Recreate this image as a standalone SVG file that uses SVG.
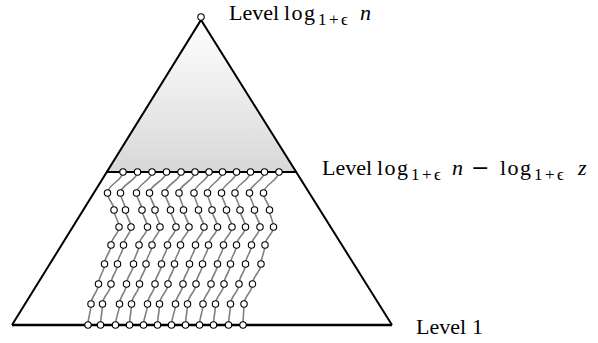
<svg xmlns="http://www.w3.org/2000/svg" width="598" height="343" viewBox="0 0 598 343">
<defs>
<linearGradient id="shade" x1="0" y1="0" x2="0" y2="1">
<stop offset="0" stop-color="#ffffff"/>
<stop offset="1" stop-color="#d8d8d8"/>
</linearGradient>
</defs>
<style>
.tri{fill:none;stroke:#000;stroke-width:2;stroke-linejoin:miter}
.lvl{stroke:#000;stroke-width:2}
.base{stroke:#000;stroke-width:2.5}
.ch{fill:none;stroke:#808080;stroke-width:1.6}
.nd{fill:#fff;stroke:#000;stroke-width:1.1}
.lbl{font-family:"Liberation Serif","Times New Roman",serif;font-size:22px;fill:#000}
.op{letter-spacing:1.5px}
.sub{font-size:17px;letter-spacing:2.5px}
.it{font-style:italic}
.mn{font-family:"DejaVu Sans",sans-serif}
</style>
<rect width="598" height="343" fill="#fff"/>
<g id="triangle">
<polygon points="201,20 106.5,172 297,172" fill="url(#shade)"/>
<line class="lvl" x1="106.5" y1="172" x2="297" y2="172"/>
<line class="base" x1="12" y1="325" x2="392" y2="325"/>
<polyline class="tri" points="12,325 201,20 392,325"/>
</g>
<g id="connectors">
<path class="ch" d="M123,172 C123,180.4 107.5,184.6 107.5,193 C107.5,199.8 114,203.2 114,210 C114,216.8 119,220.2 119,227 C119,234.2 111,237.8 111,245 C111,252.6 104.5,256.4 104.5,264 C104.5,272 98.5,276 98.5,284 C98.5,292 91,296 91,304 C91,312.4 88,316.6 88,325"/>
<path class="ch" d="M137.5,172 C137.5,180.4 120.5,184.6 120.5,193 C120.5,199.8 125.5,203.2 125.5,210 C125.5,216.8 131,220.2 131,227 C131,234.2 123.5,237.8 123.5,245 C123.5,252.6 117.5,256.4 117.5,264 C117.5,272 111,276 111,284 C111,292 102.5,296 102.5,304 C102.5,312.4 100.5,316.6 100.5,325"/>
<path class="ch" d="M152,172 C152,180.4 136.5,184.6 136.5,193 C136.5,199.8 142,203.2 142,210 C142,216.8 147.5,220.2 147.5,227 C147.5,234.2 139,237.8 139,245 C139,252.6 133.5,256.4 133.5,264 C133.5,272 126.5,276 126.5,284 C126.5,292 119.5,296 119.5,304 C119.5,312.4 115.5,316.6 115.5,325"/>
<path class="ch" d="M166.5,172 C166.5,180.4 149.5,184.6 149.5,193 C149.5,199.8 155,203.2 155,210 C155,216.8 160,220.2 160,227 C160,234.2 152,237.8 152,245 C152,252.6 146,256.4 146,264 C146,272 139.5,276 139.5,284 C139.5,292 131.5,296 131.5,304 C131.5,312.4 129.5,316.6 129.5,325"/>
<path class="ch" d="M181,172 C181,180.4 165,184.6 165,193 C165,199.8 170.5,203.2 170.5,210 C170.5,216.8 176,220.2 176,227 C176,234.2 167.5,237.8 167.5,245 C167.5,252.6 161.5,256.4 161.5,264 C161.5,272 155,276 155,284 C155,292 147.5,296 147.5,304 C147.5,312.4 143.5,316.6 143.5,325"/>
<path class="ch" d="M195,172 C195,180.4 179,184.6 179,193 C179,199.8 183.5,203.2 183.5,210 C183.5,216.8 189,220.2 189,227 C189,234.2 180.5,237.8 180.5,245 C180.5,252.6 174.5,256.4 174.5,264 C174.5,272 168,276 168,284 C168,292 159.5,296 159.5,304 C159.5,312.4 157.5,316.6 157.5,325"/>
<path class="ch" d="M209,172 C209,180.4 194,184.6 194,193 C194,199.8 198.5,203.2 198.5,210 C198.5,216.8 204,220.2 204,227 C204,234.2 195.5,237.8 195.5,245 C195.5,252.6 189.5,256.4 189.5,264 C189.5,272 183,276 183,284 C183,292 175.5,296 175.5,304 C175.5,312.4 171.5,316.6 171.5,325"/>
<path class="ch" d="M222.5,172 C222.5,180.4 207.5,184.6 207.5,193 C207.5,199.8 212,203.2 212,210 C212,216.8 217.5,220.2 217.5,227 C217.5,234.2 208.5,237.8 208.5,245 C208.5,252.6 202.5,256.4 202.5,264 C202.5,272 196,276 196,284 C196,292 187.5,296 187.5,304 C187.5,312.4 185.5,316.6 185.5,325"/>
<path class="ch" d="M236.5,172 C236.5,180.4 221.5,184.6 221.5,193 C221.5,199.8 226.5,203.2 226.5,210 C226.5,216.8 232,220.2 232,227 C232,234.2 223.5,237.8 223.5,245 C223.5,252.6 217.5,256.4 217.5,264 C217.5,272 211,276 211,284 C211,292 203,296 203,304 C203,312.4 199.5,316.6 199.5,325"/>
<path class="ch" d="M250.5,172 C250.5,180.4 235,184.6 235,193 C235,199.8 240,203.2 240,210 C240,216.8 245.5,220.2 245.5,227 C245.5,234.2 236.5,237.8 236.5,245 C236.5,252.6 230.5,256.4 230.5,264 C230.5,272 224,276 224,284 C224,292 215.5,296 215.5,304 C215.5,312.4 213.5,316.6 213.5,325"/>
<path class="ch" d="M264.5,172 C264.5,180.4 249.5,184.6 249.5,193 C249.5,199.8 254.5,203.2 254.5,210 C254.5,216.8 260,220.2 260,227 C260,234.2 251.5,237.8 251.5,245 C251.5,252.6 245.5,256.4 245.5,264 C245.5,272 239,276 239,284 C239,292 230.5,296 230.5,304 C230.5,312.4 228.5,316.6 228.5,325"/>
<path class="ch" d="M279,172 C279,180.4 263.5,184.6 263.5,193 C263.5,199.8 269.5,203.2 269.5,210 C269.5,216.8 273.5,220.2 273.5,227 C273.5,234.2 265,237.8 265,245 C265,252.6 261,256.4 261,264 C261,272 252.5,276 252.5,284 C252.5,292 244,296 244,304 C244,312.4 243,316.6 243,325"/>
</g>
<g id="apex"><circle class="nd" cx="201" cy="17" r="3.2"/></g>
<g id="c0">
<g id="n0-0"><circle class="nd" cx="123" cy="172" r="3.2"/></g>
<g id="n0-1"><circle class="nd" cx="107.5" cy="193" r="3.2"/></g>
<g id="n0-2"><circle class="nd" cx="114" cy="210" r="3.2"/></g>
<g id="n0-3"><circle class="nd" cx="119" cy="227" r="3.2"/></g>
<g id="n0-4"><circle class="nd" cx="111" cy="245" r="3.2"/></g>
<g id="n0-5"><circle class="nd" cx="104.5" cy="264" r="3.2"/></g>
<g id="n0-6"><circle class="nd" cx="98.5" cy="284" r="3.2"/></g>
<g id="n0-7"><circle class="nd" cx="91" cy="304" r="3.2"/></g>
<g id="n0-8"><circle class="nd" cx="88" cy="325" r="3.2"/></g>
</g>
<g id="c1">
<g id="n1-0"><circle class="nd" cx="137.5" cy="172" r="3.2"/></g>
<g id="n1-1"><circle class="nd" cx="120.5" cy="193" r="3.2"/></g>
<g id="n1-2"><circle class="nd" cx="125.5" cy="210" r="3.2"/></g>
<g id="n1-3"><circle class="nd" cx="131" cy="227" r="3.2"/></g>
<g id="n1-4"><circle class="nd" cx="123.5" cy="245" r="3.2"/></g>
<g id="n1-5"><circle class="nd" cx="117.5" cy="264" r="3.2"/></g>
<g id="n1-6"><circle class="nd" cx="111" cy="284" r="3.2"/></g>
<g id="n1-7"><circle class="nd" cx="102.5" cy="304" r="3.2"/></g>
<g id="n1-8"><circle class="nd" cx="100.5" cy="325" r="3.2"/></g>
</g>
<g id="c2">
<g id="n2-0"><circle class="nd" cx="152" cy="172" r="3.2"/></g>
<g id="n2-1"><circle class="nd" cx="136.5" cy="193" r="3.2"/></g>
<g id="n2-2"><circle class="nd" cx="142" cy="210" r="3.2"/></g>
<g id="n2-3"><circle class="nd" cx="147.5" cy="227" r="3.2"/></g>
<g id="n2-4"><circle class="nd" cx="139" cy="245" r="3.2"/></g>
<g id="n2-5"><circle class="nd" cx="133.5" cy="264" r="3.2"/></g>
<g id="n2-6"><circle class="nd" cx="126.5" cy="284" r="3.2"/></g>
<g id="n2-7"><circle class="nd" cx="119.5" cy="304" r="3.2"/></g>
<g id="n2-8"><circle class="nd" cx="115.5" cy="325" r="3.2"/></g>
</g>
<g id="c3">
<g id="n3-0"><circle class="nd" cx="166.5" cy="172" r="3.2"/></g>
<g id="n3-1"><circle class="nd" cx="149.5" cy="193" r="3.2"/></g>
<g id="n3-2"><circle class="nd" cx="155" cy="210" r="3.2"/></g>
<g id="n3-3"><circle class="nd" cx="160" cy="227" r="3.2"/></g>
<g id="n3-4"><circle class="nd" cx="152" cy="245" r="3.2"/></g>
<g id="n3-5"><circle class="nd" cx="146" cy="264" r="3.2"/></g>
<g id="n3-6"><circle class="nd" cx="139.5" cy="284" r="3.2"/></g>
<g id="n3-7"><circle class="nd" cx="131.5" cy="304" r="3.2"/></g>
<g id="n3-8"><circle class="nd" cx="129.5" cy="325" r="3.2"/></g>
</g>
<g id="c4">
<g id="n4-0"><circle class="nd" cx="181" cy="172" r="3.2"/></g>
<g id="n4-1"><circle class="nd" cx="165" cy="193" r="3.2"/></g>
<g id="n4-2"><circle class="nd" cx="170.5" cy="210" r="3.2"/></g>
<g id="n4-3"><circle class="nd" cx="176" cy="227" r="3.2"/></g>
<g id="n4-4"><circle class="nd" cx="167.5" cy="245" r="3.2"/></g>
<g id="n4-5"><circle class="nd" cx="161.5" cy="264" r="3.2"/></g>
<g id="n4-6"><circle class="nd" cx="155" cy="284" r="3.2"/></g>
<g id="n4-7"><circle class="nd" cx="147.5" cy="304" r="3.2"/></g>
<g id="n4-8"><circle class="nd" cx="143.5" cy="325" r="3.2"/></g>
</g>
<g id="c5">
<g id="n5-0"><circle class="nd" cx="195" cy="172" r="3.2"/></g>
<g id="n5-1"><circle class="nd" cx="179" cy="193" r="3.2"/></g>
<g id="n5-2"><circle class="nd" cx="183.5" cy="210" r="3.2"/></g>
<g id="n5-3"><circle class="nd" cx="189" cy="227" r="3.2"/></g>
<g id="n5-4"><circle class="nd" cx="180.5" cy="245" r="3.2"/></g>
<g id="n5-5"><circle class="nd" cx="174.5" cy="264" r="3.2"/></g>
<g id="n5-6"><circle class="nd" cx="168" cy="284" r="3.2"/></g>
<g id="n5-7"><circle class="nd" cx="159.5" cy="304" r="3.2"/></g>
<g id="n5-8"><circle class="nd" cx="157.5" cy="325" r="3.2"/></g>
</g>
<g id="c6">
<g id="n6-0"><circle class="nd" cx="209" cy="172" r="3.2"/></g>
<g id="n6-1"><circle class="nd" cx="194" cy="193" r="3.2"/></g>
<g id="n6-2"><circle class="nd" cx="198.5" cy="210" r="3.2"/></g>
<g id="n6-3"><circle class="nd" cx="204" cy="227" r="3.2"/></g>
<g id="n6-4"><circle class="nd" cx="195.5" cy="245" r="3.2"/></g>
<g id="n6-5"><circle class="nd" cx="189.5" cy="264" r="3.2"/></g>
<g id="n6-6"><circle class="nd" cx="183" cy="284" r="3.2"/></g>
<g id="n6-7"><circle class="nd" cx="175.5" cy="304" r="3.2"/></g>
<g id="n6-8"><circle class="nd" cx="171.5" cy="325" r="3.2"/></g>
</g>
<g id="c7">
<g id="n7-0"><circle class="nd" cx="222.5" cy="172" r="3.2"/></g>
<g id="n7-1"><circle class="nd" cx="207.5" cy="193" r="3.2"/></g>
<g id="n7-2"><circle class="nd" cx="212" cy="210" r="3.2"/></g>
<g id="n7-3"><circle class="nd" cx="217.5" cy="227" r="3.2"/></g>
<g id="n7-4"><circle class="nd" cx="208.5" cy="245" r="3.2"/></g>
<g id="n7-5"><circle class="nd" cx="202.5" cy="264" r="3.2"/></g>
<g id="n7-6"><circle class="nd" cx="196" cy="284" r="3.2"/></g>
<g id="n7-7"><circle class="nd" cx="187.5" cy="304" r="3.2"/></g>
<g id="n7-8"><circle class="nd" cx="185.5" cy="325" r="3.2"/></g>
</g>
<g id="c8">
<g id="n8-0"><circle class="nd" cx="236.5" cy="172" r="3.2"/></g>
<g id="n8-1"><circle class="nd" cx="221.5" cy="193" r="3.2"/></g>
<g id="n8-2"><circle class="nd" cx="226.5" cy="210" r="3.2"/></g>
<g id="n8-3"><circle class="nd" cx="232" cy="227" r="3.2"/></g>
<g id="n8-4"><circle class="nd" cx="223.5" cy="245" r="3.2"/></g>
<g id="n8-5"><circle class="nd" cx="217.5" cy="264" r="3.2"/></g>
<g id="n8-6"><circle class="nd" cx="211" cy="284" r="3.2"/></g>
<g id="n8-7"><circle class="nd" cx="203" cy="304" r="3.2"/></g>
<g id="n8-8"><circle class="nd" cx="199.5" cy="325" r="3.2"/></g>
</g>
<g id="c9">
<g id="n9-0"><circle class="nd" cx="250.5" cy="172" r="3.2"/></g>
<g id="n9-1"><circle class="nd" cx="235" cy="193" r="3.2"/></g>
<g id="n9-2"><circle class="nd" cx="240" cy="210" r="3.2"/></g>
<g id="n9-3"><circle class="nd" cx="245.5" cy="227" r="3.2"/></g>
<g id="n9-4"><circle class="nd" cx="236.5" cy="245" r="3.2"/></g>
<g id="n9-5"><circle class="nd" cx="230.5" cy="264" r="3.2"/></g>
<g id="n9-6"><circle class="nd" cx="224" cy="284" r="3.2"/></g>
<g id="n9-7"><circle class="nd" cx="215.5" cy="304" r="3.2"/></g>
<g id="n9-8"><circle class="nd" cx="213.5" cy="325" r="3.2"/></g>
</g>
<g id="c10">
<g id="n10-0"><circle class="nd" cx="264.5" cy="172" r="3.2"/></g>
<g id="n10-1"><circle class="nd" cx="249.5" cy="193" r="3.2"/></g>
<g id="n10-2"><circle class="nd" cx="254.5" cy="210" r="3.2"/></g>
<g id="n10-3"><circle class="nd" cx="260" cy="227" r="3.2"/></g>
<g id="n10-4"><circle class="nd" cx="251.5" cy="245" r="3.2"/></g>
<g id="n10-5"><circle class="nd" cx="245.5" cy="264" r="3.2"/></g>
<g id="n10-6"><circle class="nd" cx="239" cy="284" r="3.2"/></g>
<g id="n10-7"><circle class="nd" cx="230.5" cy="304" r="3.2"/></g>
<g id="n10-8"><circle class="nd" cx="228.5" cy="325" r="3.2"/></g>
</g>
<g id="c11">
<g id="n11-0"><circle class="nd" cx="279" cy="172" r="3.2"/></g>
<g id="n11-1"><circle class="nd" cx="263.5" cy="193" r="3.2"/></g>
<g id="n11-2"><circle class="nd" cx="269.5" cy="210" r="3.2"/></g>
<g id="n11-3"><circle class="nd" cx="273.5" cy="227" r="3.2"/></g>
<g id="n11-4"><circle class="nd" cx="265" cy="245" r="3.2"/></g>
<g id="n11-5"><circle class="nd" cx="261" cy="264" r="3.2"/></g>
<g id="n11-6"><circle class="nd" cx="252.5" cy="284" r="3.2"/></g>
<g id="n11-7"><circle class="nd" cx="244" cy="304" r="3.2"/></g>
<g id="n11-8"><circle class="nd" cx="243" cy="325" r="3.2"/></g>
</g>
<g id="labels">
<text class="lbl" x="229" y="20">Level<tspan class="op" x="284">log</tspan><tspan class="sub" x="318" y="25">1+ϵ</tspan><tspan class="it" x="360" y="20">n</tspan></text>
<text class="lbl" x="322" y="175">Level<tspan class="op" x="377">log</tspan><tspan class="sub" x="411" y="180">1+ϵ</tspan><tspan class="it" x="452" y="175">n</tspan><tspan class="mn" x="471">−</tspan><tspan class="op" x="500">log</tspan><tspan class="sub" x="534" y="180">1+ϵ</tspan><tspan class="it" x="578" y="175">z</tspan></text>
<text class="lbl" x="416" y="334">Level<tspan x="472">1</tspan></text>
</g>
</svg>
